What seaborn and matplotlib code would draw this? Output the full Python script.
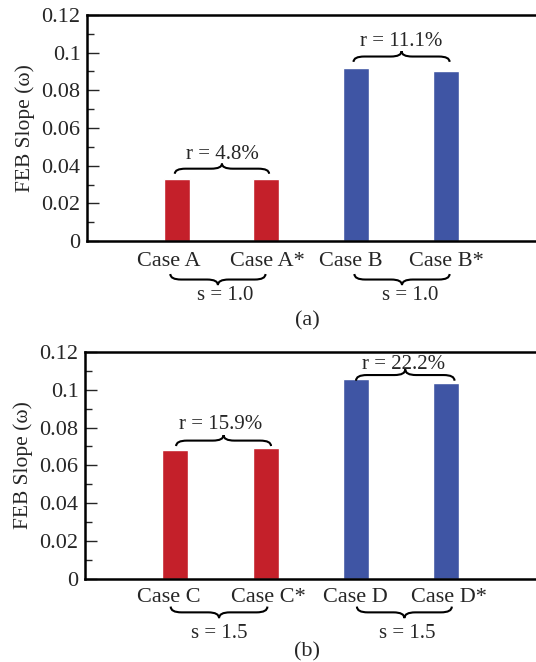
import matplotlib
matplotlib.use("Agg")
import matplotlib.pyplot as plt
import matplotlib.transforms as mtransforms
import seaborn as sns
import pandas as pd
from matplotlib.path import Path
from matplotlib.patches import PathPatch
from matplotlib.ticker import MultipleLocator, FixedLocator, FixedFormatter

# ---- data ----
cases_a = ["Case A", "Case A*", "Case B", "Case B*"]
slope_a = [0.0330, 0.0330, 0.0920, 0.0905]
cases_b = ["Case C", "Case C*", "Case D", "Case D*"]
slope_b = [0.0681, 0.0692, 0.1055, 0.1036]
bar_colors = ["#C4202A", "#C4202A", "#3F55A4", "#3F55A4"]
r_labels_a = ["r = 4.8%", "r = 11.1%"]
r_labels_b = ["r = 15.9%", "r = 22.2%"]
s_labels_a = ["s = 1.0", "s = 1.0"]
s_labels_b = ["s = 1.5", "s = 1.5"]
yticks = [0, 0.02, 0.04, 0.06, 0.08, 0.1, 0.12]
ytick_labels = ["0", "0.02", "0.04", "0.06", "0.08", "0.1", "0.12"]
panel_labels = ["(a)", "(b)"]

sns.set_style("white")
plt.rcParams["font.family"] = ["Liberation Serif", "DejaVu Serif"]

W, H = 536, 662
fig = plt.figure(figsize=(W / 100, H / 100), dpi=100)


def brace(ax, x0, x1, y0, h, q, transform, lw=1.5):
    xm = 0.5 * (x0 + x1)
    ym = y0 + h / 2
    verts = [(x0, y0), (x0, ym), (x0 + q, ym), (xm - q, ym), (xm, ym), (xm, y0 + h),
             (xm, ym), (xm + q, ym), (x1 - q, ym), (x1, ym), (x1, y0)]
    codes = [Path.MOVETO, Path.CURVE3, Path.CURVE3, Path.LINETO, Path.CURVE3, Path.CURVE3,
             Path.CURVE3, Path.CURVE3, Path.LINETO, Path.CURVE3, Path.CURVE3]
    ax.add_patch(PathPatch(Path(verts, codes), fill=False, lw=lw, color="black",
                           transform=transform, clip_on=False))


def panel(rect, cases, slopes, r_labels, s_labels, upper_braces, lower_braces,
          lower_y, s_pos, xpad, label_shift, plabel, plabel_y):
    ax = fig.add_axes(rect)
    df = pd.DataFrame({"case": cases, "slope": slopes})
    sns.barplot(data=df, x="case", y="slope", hue="case", palette=bar_colors,
                legend=False, width=0.289, saturation=1, ax=ax)
    ax.set_xlim(-1, 5)
    ax.set_ylim(0, 0.12)
    ax.yaxis.set_major_locator(FixedLocator(yticks))
    ax.yaxis.set_major_formatter(FixedFormatter(ytick_labels))
    ax.yaxis.set_minor_locator(MultipleLocator(0.01))
    ax.tick_params(axis="y", which="major", direction="in", length=8.5, width=1,
                   labelsize=16, pad=4.5, left=True, right=False)
    ax.tick_params(axis="y", which="minor", direction="in", length=5, width=1, left=True, right=False)
    ax.tick_params(axis="x", length=0, labelsize=16, pad=xpad)
    for lab, dx in zip(ax.get_xticklabels(), label_shift):
        lab.set_transform(lab.get_transform() + mtransforms.ScaledTranslation(dx / 100, 0, fig.dpi_scale_trans))
    ax.set_xlabel("")
    ax.set_ylabel("FEB Slope (ω)", fontsize=15.5, labelpad=5)
    for s in ["left", "bottom", "top"]:
        ax.spines[s].set_visible(True)
        ax.spines[s].set_linewidth(1.8)
        ax.spines[s].set_color("black")
    ax.spines["right"].set_visible(False)
    ax.grid(False)

    # upper braces with r labels
    for (x0, x1, yb, h, tx, ty), lab in zip(upper_braces, r_labels):
        brace(ax, x0, x1, yb, h, 0.12, ax.transData)
        ax.text(tx, ty, lab, ha="center", va="center", fontsize=15)

    # lower braces below tick labels with s labels
    tr = ax.get_xaxis_transform()
    for (x0, x1), sx, lab in zip(lower_braces, s_pos[0], s_labels):
        brace(ax, x0, x1, lower_y[0], lower_y[1], 0.12, tr)
        ax.text(sx, s_pos[1], lab, ha="center", va="center", fontsize=15, transform=tr)

    fig.text(307 / W, plabel_y, plabel, ha="center", va="center", fontsize=16)
    return ax


# axes extend past the right figure edge (the reference is cropped there)
panel([86.8 / W, (H - 241) / H, 6 * 89.8 / W, 226 / H], cases_a, slope_a, r_labels_a, s_labels_a,
      [(-0.02, 1.03, 0.0357, 0.0054, 0.51, 0.0458), (1.97, 3.04, 0.0951, 0.0057, 2.505, 0.1060)],
      [(-0.07, 0.99), (1.98, 3.04)],
      (-0.146, -0.049), ([0.54, 2.6], -0.239), 8, [-8, 1, -5, 0], panel_labels[0], 1 - 321 / H)

panel([84.8 / W, (H - 578.7) / H, 6 * 90.4 / W, 226.7 / H], cases_b, slope_b, r_labels_b, s_labels_b,
      [(0.01, 1.06, 0.0702, 0.0058, 0.5, 0.0817), (2.0, 3.09, 0.1048, 0.0060, 2.53, 0.1135)],
      [(-0.05, 1.02), (2.01, 3.06)],
      (-0.123, -0.051), ([0.49, 2.57], -0.24), 7, [-6, 3, -1, 3], panel_labels[1], 1 - 652 / H)

fig.savefig("out.png", dpi=100)
